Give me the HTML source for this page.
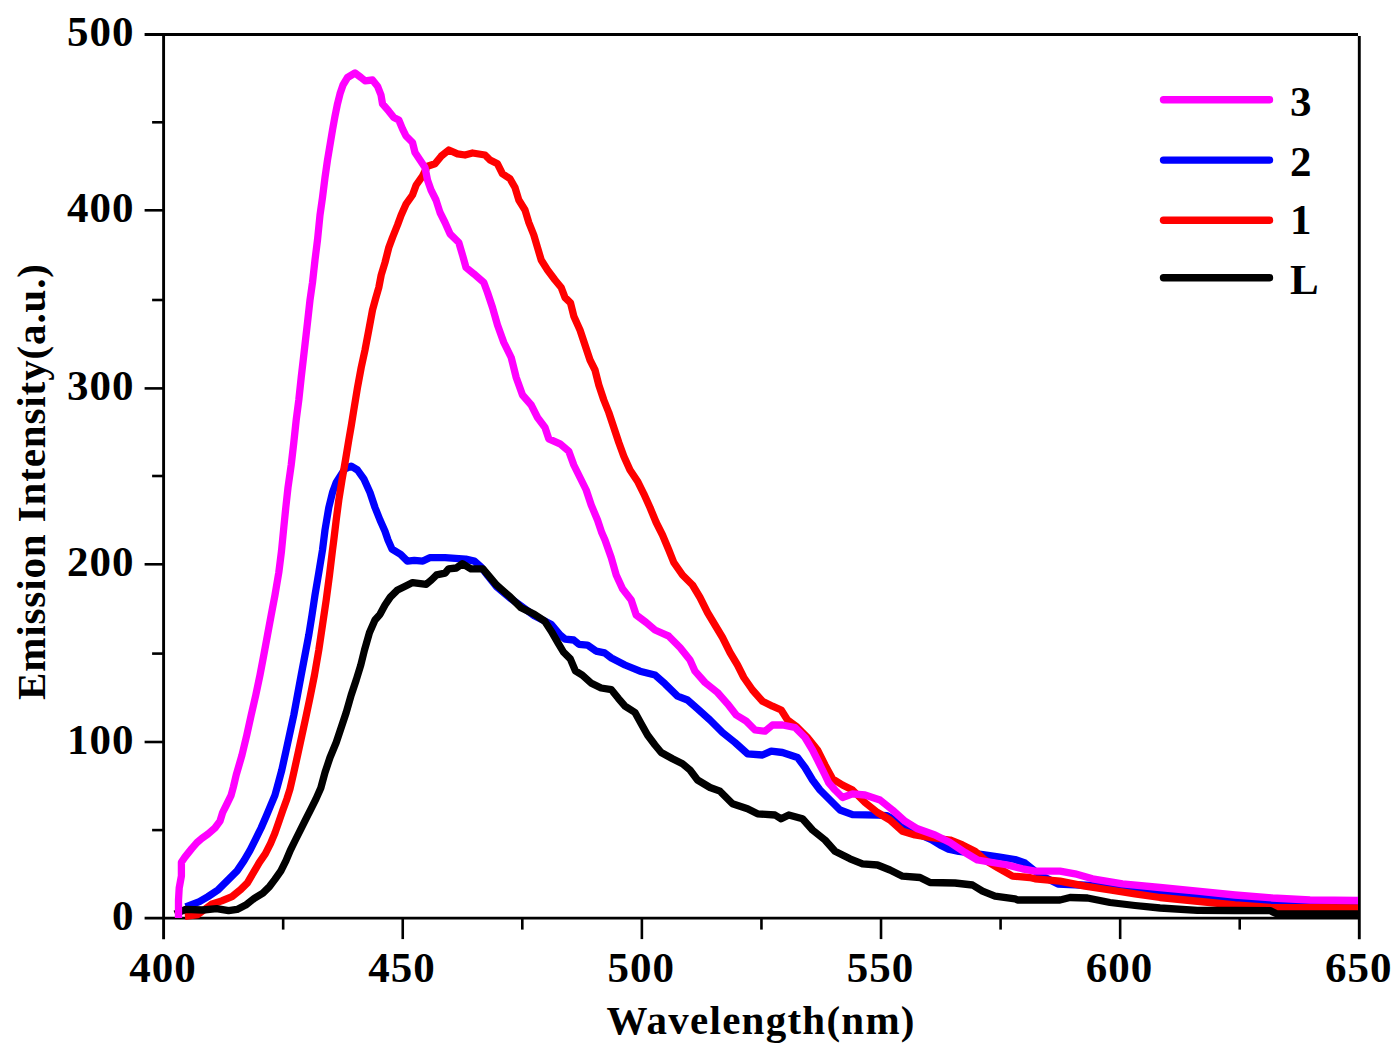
<!DOCTYPE html>
<html><head><meta charset="utf-8"><title>Emission spectra</title>
<style>
html,body{margin:0;padding:0;background:#fff;}
body{width:1400px;height:1051px;overflow:hidden;}
svg{display:block;}
text{font-family:"Liberation Serif",serif;font-weight:bold;font-size:43px;fill:#000;}
.t{letter-spacing:1px;}
</style></head>
<body>
<svg width="1400" height="1051" viewBox="0 0 1400 1051">
<rect width="1400" height="1051" fill="#fff"/>
<g stroke="#000" stroke-width="2.6" fill="none" stroke-linecap="butt">
<line x1="163.6" y1="34.5" x2="163.6" y2="939.3000000000001" stroke-width="2.9"/>
<line x1="1359.3" y1="35.9" x2="1359.3" y2="939.3000000000001" stroke-width="2.9"/>
<line x1="144.6" y1="918.1" x2="1359.3" y2="918.1" stroke-width="2.6"/>
<line x1="144.6" y1="34.5" x2="1358.0" y2="34.5" stroke-width="3"/>
<line x1="152.1" y1="830.10" x2="163.6" y2="830.10"/>
<line x1="144.6" y1="742.00" x2="163.6" y2="742.00"/>
<line x1="152.1" y1="653.60" x2="163.6" y2="653.60"/>
<line x1="144.6" y1="564.30" x2="163.6" y2="564.30"/>
<line x1="152.1" y1="476.00" x2="163.6" y2="476.00"/>
<line x1="144.6" y1="388.40" x2="163.6" y2="388.40"/>
<line x1="152.1" y1="300.00" x2="163.6" y2="300.00"/>
<line x1="144.6" y1="210.30" x2="163.6" y2="210.30"/>
<line x1="152.1" y1="122.30" x2="163.6" y2="122.30"/>
<line x1="283.17" y1="918.1" x2="283.17" y2="929.6"/>
<line x1="402.74" y1="918.1" x2="402.74" y2="939.1"/>
<line x1="522.31" y1="918.1" x2="522.31" y2="929.6"/>
<line x1="641.88" y1="918.1" x2="641.88" y2="939.1"/>
<line x1="761.45" y1="918.1" x2="761.45" y2="929.6"/>
<line x1="881.02" y1="918.1" x2="881.02" y2="939.1"/>
<line x1="1000.59" y1="918.1" x2="1000.59" y2="929.6"/>
<line x1="1120.16" y1="918.1" x2="1120.16" y2="939.1"/>
<line x1="1239.73" y1="918.1" x2="1239.73" y2="929.6"/>
</g>
<g fill="none" stroke-width="7.3" stroke-linejoin="round" stroke-linecap="butt">
<polyline stroke="#0000ff" points="185.7,906.9 199.4,901.7 208.0,896.6 218.3,889.7 228.6,879.4 237.1,870.9 244.0,860.6 250.0,850.3 256.0,838.3 261.1,828.0 266.3,816.0 270.6,805.7 274.9,795.4 277.5,786.0 281.8,770.0 286.2,750.0 290.0,732.5 293.8,715.0 297.5,695.0 301.2,675.0 305.0,655.0 308.8,635.0 312.0,615.0 315.0,595.0 318.8,572.5 322.5,550.0 325.0,530.0 328.8,507.5 332.5,492.5 336.2,482.5 345.0,468.8 351.2,466.2 357.5,470.0 363.8,478.8 370.0,492.5 375.0,507.5 380.0,520.0 385.0,531.2 388.0,540.0 392.0,549.1 400.6,554.3 407.4,561.1 414.3,560.3 422.9,561.1 429.7,557.7 445.1,557.7 465.7,559.1 474.3,561.1 481.1,567.1 488.0,576.0 496.6,586.6 510.3,598.3 519.0,604.5 534.3,615.8 544.6,621.0 551.4,624.6 560.0,634.9 565.1,639.1 573.7,640.0 578.9,644.3 587.4,645.1 596.0,651.1 604.6,652.9 611.4,658.0 625.0,665.0 640.0,671.2 655.0,675.0 665.0,683.8 677.5,696.2 687.5,700.0 697.5,708.8 710.0,720.0 722.5,732.5 735.0,742.5 747.5,753.8 762.5,755.0 771.2,751.2 782.5,752.5 797.5,757.5 805.0,767.5 812.5,780.0 820.0,790.0 830.0,800.0 840.0,810.0 852.5,814.7 878.3,815.2 887.0,815.6 897.0,821.5 905.7,828.0 917.7,833.7 931.4,839.7 940.0,844.9 948.6,849.1 958.9,851.5 982.9,854.5 999.8,857.0 1015.0,859.5 1025.0,863.0 1040.0,875.0 1058.0,884.0 1080.0,885.0 1105.0,886.0 1147.5,892.0 1197.5,895.5 1247.5,901.0 1270.0,903.8 1305.0,904.5 1358.0,905.0"/>
<polyline stroke="#ff0000" points="184.9,916.3 197.7,914.6 211.4,904.3 221.7,900.9 232.0,896.6 240.6,889.7 247.4,882.9 253.4,872.6 259.4,862.3 265.4,853.7 270.6,843.4 274.9,833.1 279.1,821.1 282.6,810.9 286.9,798.9 290.0,789.0 293.8,772.5 298.2,752.5 302.0,735.0 305.8,717.5 310.0,697.5 314.5,675.0 318.8,650.0 322.5,625.0 326.2,600.0 329.5,575.0 332.5,550.0 333.8,540.0 336.2,520.0 338.8,500.0 342.0,480.0 345.5,460.0 348.8,440.0 351.2,426.2 353.8,410.0 357.5,387.5 361.2,367.5 365.0,350.0 368.8,330.0 372.5,310.0 375.5,299.0 378.8,287.5 381.2,275.0 385.0,262.5 388.8,247.5 392.5,237.5 397.5,225.0 401.2,215.0 406.2,203.8 412.5,195.0 416.2,185.0 422.5,176.2 427.5,166.2 435.0,163.8 441.2,156.2 448.8,150.0 457.5,153.8 465.0,155.0 472.5,153.0 485.0,155.0 490.0,160.0 497.5,163.8 502.5,173.8 510.0,178.8 515.0,187.5 518.8,200.0 525.0,210.0 528.8,222.5 533.8,235.0 537.5,247.5 541.2,260.0 547.5,270.0 555.0,280.0 561.2,287.5 565.0,297.5 570.5,302.8 573.8,316.2 580.0,330.0 585.0,345.0 590.0,360.0 595.0,370.0 598.8,385.0 603.8,400.0 608.8,412.5 613.8,427.5 618.8,442.5 623.8,456.2 630.0,470.0 637.5,481.2 643.8,493.8 650.0,507.5 656.2,522.5 662.5,535.0 668.8,550.0 673.8,562.5 682.5,575.0 692.5,585.0 700.0,597.5 707.5,612.5 715.0,625.0 722.5,637.5 730.0,652.5 737.5,665.0 743.8,677.5 752.5,690.0 762.5,701.2 772.5,706.2 781.2,710.0 787.5,720.0 797.0,727.0 807.5,737.5 817.5,750.0 825.0,765.0 832.5,778.8 842.5,785.0 852.5,790.0 865.0,802.5 877.5,812.5 890.0,820.0 902.5,831.2 915.0,835.0 930.0,837.5 950.0,840.0 962.5,845.0 975.0,851.2 985.0,860.0 997.5,867.5 1012.5,876.2 1029.8,877.5 1035.0,878.8 1060.0,881.2 1085.0,886.2 1110.0,890.0 1135.0,893.8 1160.0,897.5 1185.0,900.0 1210.0,902.5 1235.0,905.0 1270.0,907.5 1358.0,908.0"/>
<polyline stroke="#000000" points="175.0,914.0 185.7,909.4 202.9,910.0 216.6,908.6 228.6,910.6 237.1,909.4 245.7,905.1 254.3,898.3 262.9,893.1 269.7,886.3 274.9,879.4 280.9,870.9 286.0,860.6 290.3,850.3 295.4,840.0 300.6,829.7 305.7,819.4 310.9,809.1 316.0,798.9 320.8,788.0 325.0,772.5 330.0,757.5 336.2,742.5 341.2,727.5 346.2,712.5 351.2,695.0 356.2,680.0 360.8,665.0 364.5,650.0 369.5,632.5 375.0,620.0 380.0,614.3 385.0,605.0 390.3,597.1 397.1,590.3 405.7,586.0 412.6,582.6 426.3,584.3 431.4,580.0 436.6,574.9 445.1,573.1 448.6,568.9 456.3,568.0 462.3,563.7 470.9,568.9 482.9,568.9 488.0,574.9 496.6,585.1 510.3,597.1 520.6,607.4 534.3,614.3 544.6,621.1 551.4,631.4 558.3,643.4 563.4,652.0 570.3,658.9 575.4,670.9 582.3,675.1 590.9,682.9 601.1,688.0 611.4,689.7 618.3,698.3 625.0,706.2 635.0,712.5 641.2,723.8 647.5,735.0 655.0,745.0 661.2,752.5 672.5,758.8 682.5,763.8 690.0,770.0 697.5,780.0 710.0,787.5 720.0,791.2 732.5,803.8 747.5,808.8 757.5,813.8 775.0,815.0 781.2,818.8 788.8,815.0 802.5,818.8 812.5,830.0 825.0,840.0 835.0,851.2 850.0,858.8 862.5,863.8 877.5,865.0 890.0,870.0 902.5,876.2 920.0,877.5 930.0,882.5 955.0,883.0 972.5,885.0 982.5,891.2 995.0,896.2 1015.0,898.8 1017.5,900.0 1060.0,900.0 1070.0,897.5 1087.5,898.0 1110.0,902.5 1135.0,905.5 1160.0,908.0 1197.5,910.4 1235.0,910.5 1270.0,910.6 1276.0,913.6 1358.0,913.8"/>
<polyline stroke="#ff00ff" points="178.5,918.0 178.5,900.0 179.2,888.0 181.4,876.0 181.4,862.3 184.9,857.1 191.7,848.6 196.9,842.6 202.0,838.3 208.0,834.0 214.9,828.0 220.0,821.1 222.6,812.6 226.9,804.0 231.1,795.4 233.4,786.9 236.2,775.0 242.0,755.0 246.8,735.0 251.2,715.0 255.8,695.0 260.0,675.0 263.8,655.0 267.5,635.0 271.2,615.0 275.0,595.0 278.8,572.5 281.5,551.0 283.8,527.5 285.8,507.5 288.0,487.5 291.2,465.0 293.8,442.5 296.2,420.0 298.8,400.0 301.2,377.5 303.8,355.0 307.5,322.5 310.0,300.0 312.5,282.5 315.0,260.0 317.5,240.0 320.0,215.0 322.5,197.5 325.0,177.5 327.5,160.0 330.0,145.0 332.5,130.0 335.0,116.2 337.5,103.8 340.0,93.8 343.0,85.0 347.5,77.5 355.0,73.0 361.0,77.5 365.0,80.8 372.5,80.0 377.5,86.2 381.0,95.0 382.5,103.8 388.8,111.2 393.8,117.5 398.8,120.0 402.5,128.8 406.0,136.0 412.5,142.5 415.0,152.5 420.0,160.0 425.0,167.5 427.5,180.0 431.0,190.0 436.0,200.0 440.0,212.5 445.0,222.5 450.0,233.8 458.8,242.5 462.5,255.0 466.0,267.5 473.8,273.8 483.8,282.5 487.5,292.5 492.5,307.5 497.5,325.0 503.8,342.5 511.2,357.5 516.2,377.5 522.5,395.0 531.2,405.0 537.5,417.5 545.0,427.5 548.8,438.8 560.0,443.8 568.8,451.2 573.8,465.0 580.0,477.5 586.2,490.0 591.2,505.0 597.5,520.0 601.8,532.8 605.0,540.0 611.2,557.5 616.2,575.0 622.5,588.8 631.2,600.0 636.2,615.0 646.2,622.5 655.0,630.0 668.8,636.2 680.0,647.5 690.0,660.0 695.0,671.2 705.0,682.5 717.5,692.5 727.5,703.8 736.2,715.0 746.2,721.2 755.0,730.0 765.0,731.2 772.5,725.0 782.5,725.0 795.0,727.5 805.0,737.5 812.5,750.0 818.8,762.5 825.0,775.0 828.8,782.8 835.0,790.0 842.5,797.5 852.5,793.8 865.0,795.0 880.0,800.0 892.5,810.0 905.0,821.2 917.5,828.8 935.0,835.0 950.0,842.5 965.0,852.5 977.5,860.0 992.5,862.5 1007.5,865.0 1022.5,868.8 1035.0,871.2 1060.0,871.2 1075.0,873.8 1092.5,878.8 1122.5,883.8 1160.0,887.5 1197.5,891.2 1235.0,895.0 1272.5,898.0 1310.0,900.0 1358.0,900.5"/>
</g>
<g stroke-width="7.4" stroke-linecap="round">
<line x1="1163.5" y1="99.7" x2="1269.5" y2="99.7" stroke="#ff00ff"/>
<line x1="1163.5" y1="160.1" x2="1269.5" y2="160.1" stroke="#0000ff"/>
<line x1="1163.5" y1="220.2" x2="1269.5" y2="220.2" stroke="#ff0000"/>
<line x1="1163.5" y1="277.8" x2="1269.5" y2="277.8" stroke="#000000"/>
</g>
<g>
<text x="1290" y="116.2">3</text>
<text x="1290" y="175.7">2</text>
<text x="1290" y="234.3">1</text>
<text x="1290" y="293.7">L</text>
<text class="t" x="134.6" y="929.9" text-anchor="end">0</text>
<text class="t" x="134.6" y="753.8" text-anchor="end">100</text>
<text class="t" x="134.6" y="576.1" text-anchor="end">200</text>
<text class="t" x="134.6" y="400.2" text-anchor="end">300</text>
<text class="t" x="134.6" y="222.1" text-anchor="end">400</text>
<text class="t" x="134.6" y="46.4" text-anchor="end">500</text>
<text class="t" x="163.0" y="982.3" text-anchor="middle">400</text>
<text class="t" x="402.1" y="982.3" text-anchor="middle">450</text>
<text class="t" x="641.3" y="982.3" text-anchor="middle">500</text>
<text class="t" x="880.4" y="982.3" text-anchor="middle">550</text>
<text class="t" x="1119.6" y="982.3" text-anchor="middle">600</text>
<text class="t" x="1358.7" y="982.3" text-anchor="middle">650</text>
<text x="606.5" y="1034" style="font-size:41px" textLength="308" lengthAdjust="spacing">Wavelength(nm)</text>
<text transform="translate(45,700) rotate(-90)" style="font-size:41px" textLength="436" lengthAdjust="spacing">Emission Intensity(a.u.)</text>
</g>
</svg>
</body></html>
